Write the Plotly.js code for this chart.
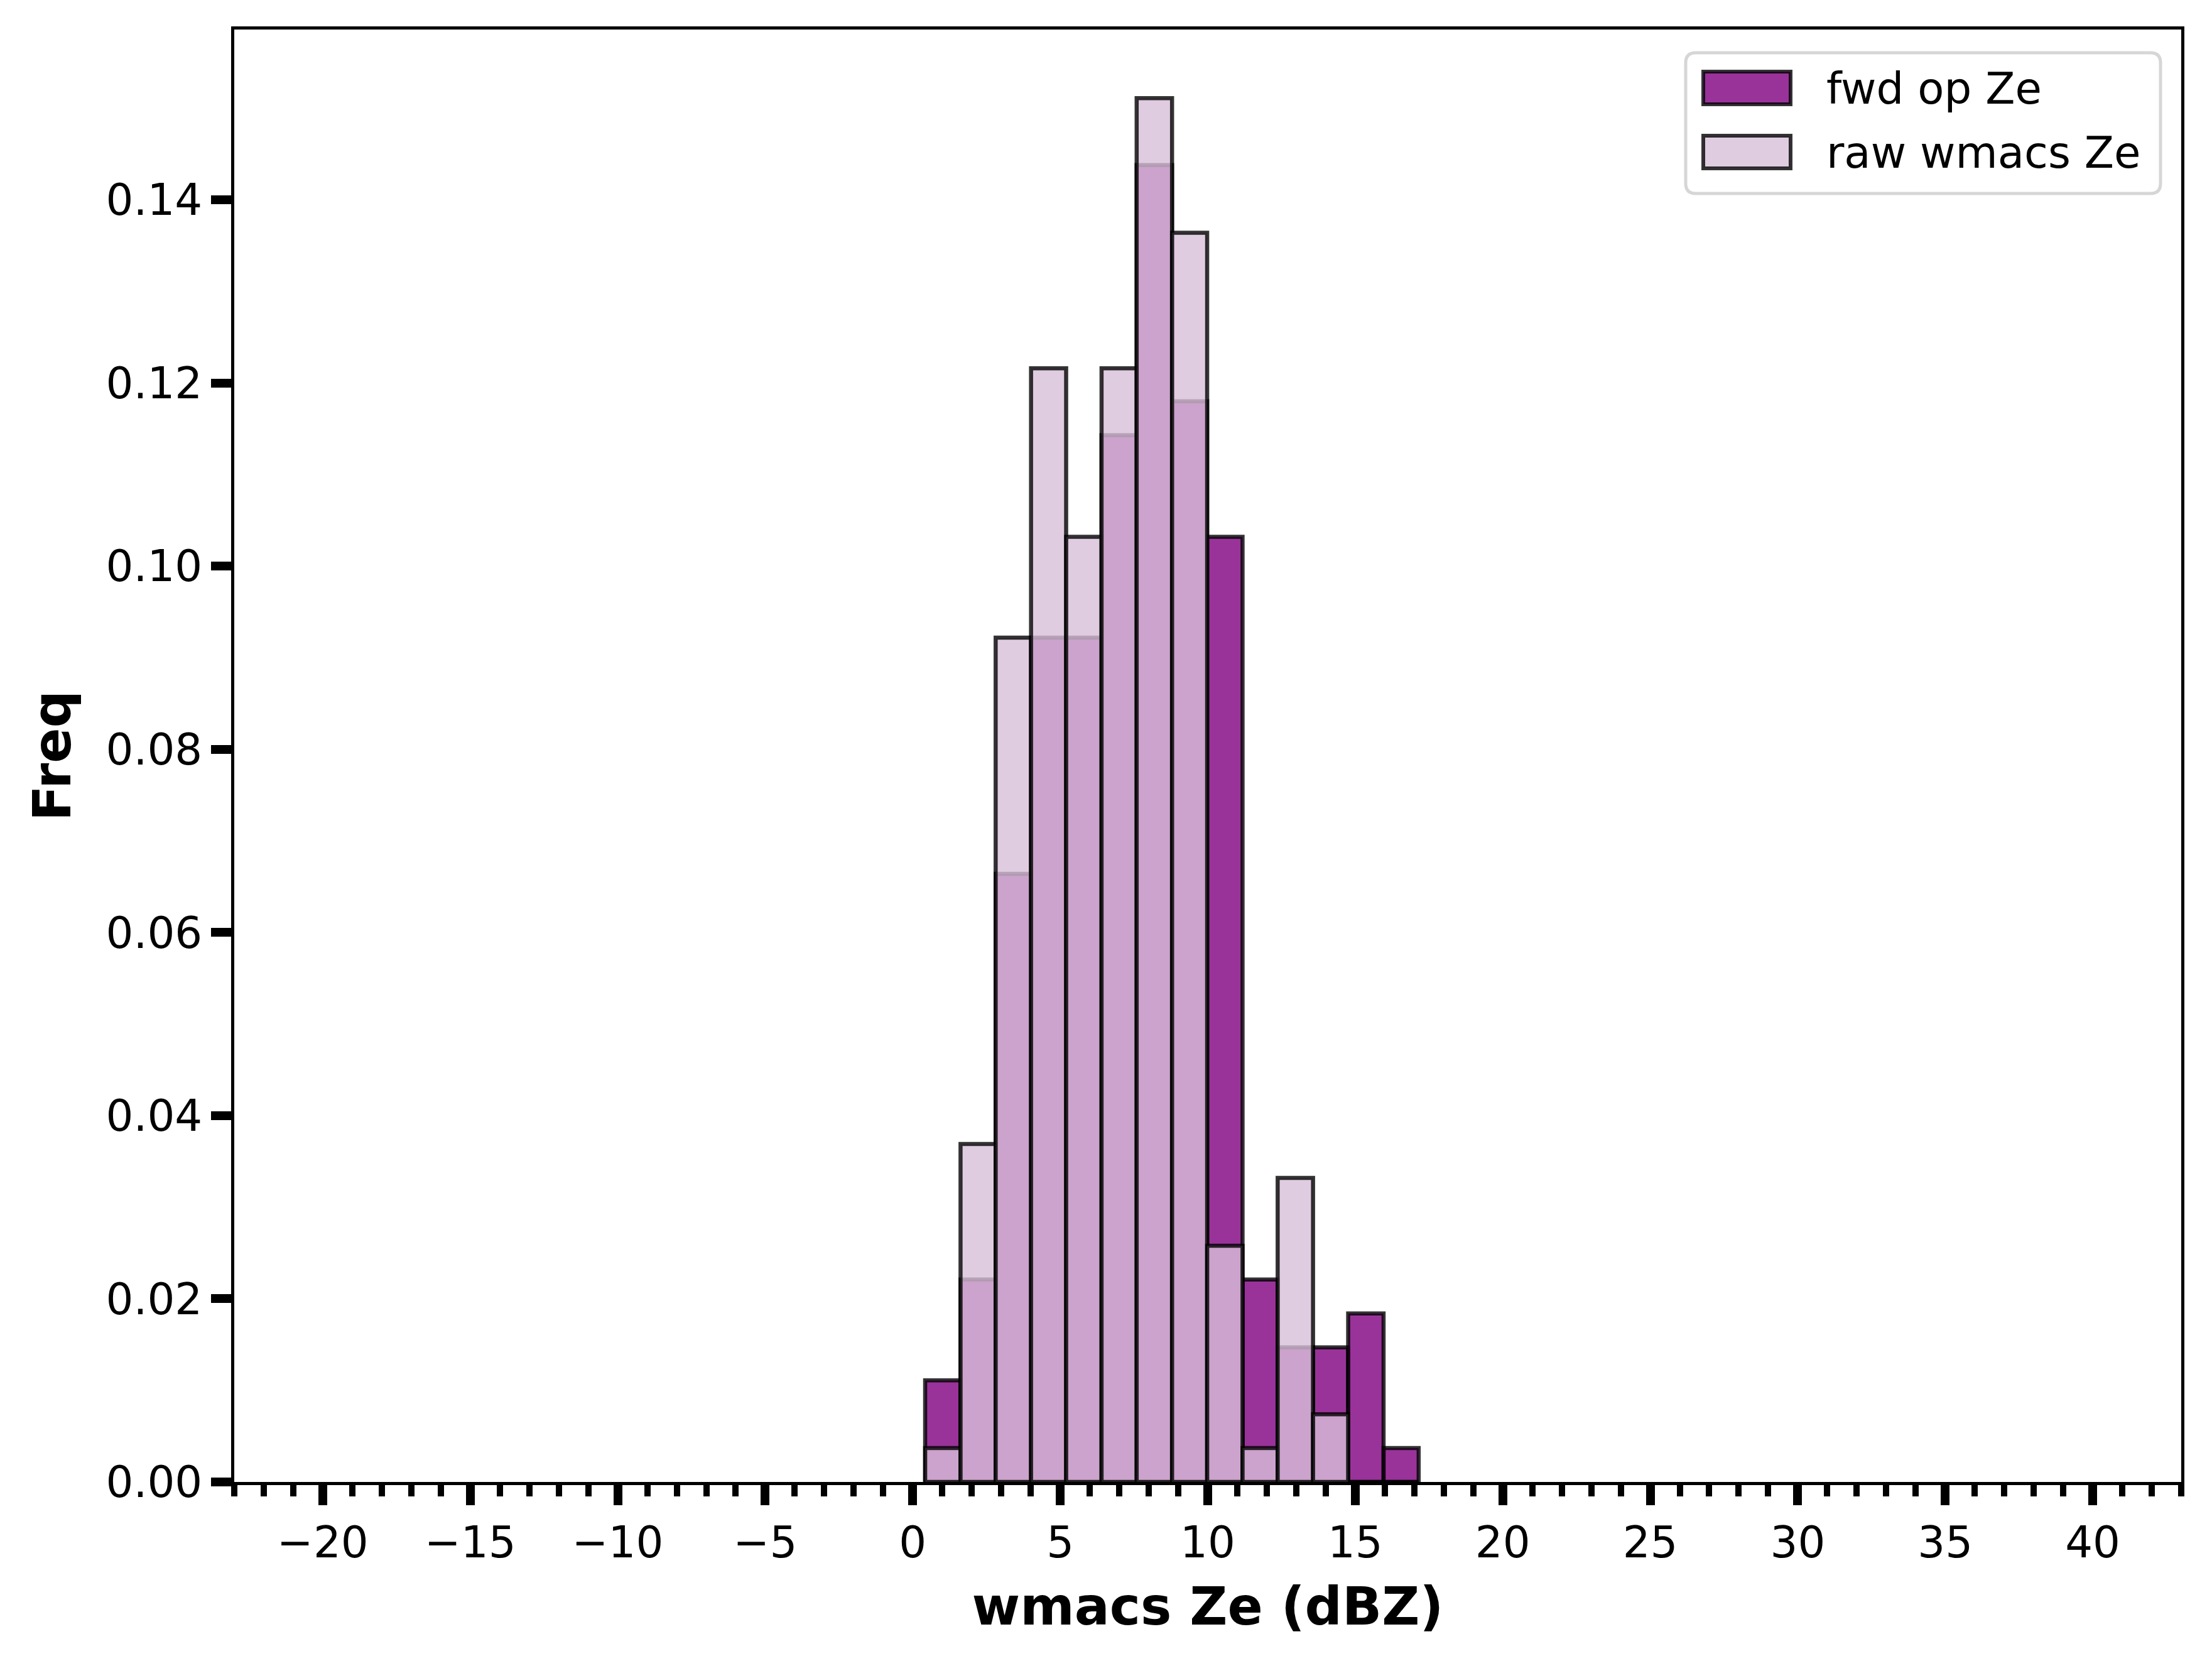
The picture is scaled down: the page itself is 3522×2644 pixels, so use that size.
<!DOCTYPE html>
<html>
<head>
<meta charset="utf-8">
<script src="https://cdn.plot.ly/plotly-3.0.1.min.js"></script>
<style>
	html, body { margin: 0; padding: 0; background: #ffffff; }
	#histPlot { width: 3522px; height: 2644px; }
</style>
</head>
<body>
<div id="histPlot"></div>
<script>
'use strict';

// bin edges (dBZ)
const binEdges = [0.42, 1.62, 2.81, 4.01, 5.20, 6.40, 7.59, 8.79, 9.98, 11.18, 12.37, 13.57, 14.76, 15.96, 17.15];

// normalised frequency per bin
const fwdFreq = [0.0111, 0.0221, 0.0664, 0.0922, 0.0922, 0.1143, 0.1438, 0.1180, 0.1032, 0.0221, 0.0147, 0.0147, 0.0184, 0.0037];
const rawFreq = [0.0037, 0.0369, 0.0922, 0.1216, 0.1032, 0.1216, 0.1511, 0.1364, 0.0258, 0.0037, 0.0332, 0.0074, 0, 0];

const seriesNames = ["fwd op Ze", "raw wmacs Ze"];
const xTickVals = [-20, -15, -10, -5, 0, 5, 10, 15, 20, 25, 30, 35, 40];

document.addEventListener('DOMContentLoaded', function(){

	const fwdFill = 'rgba(128,0,128,0.8)';
	const rawFill = 'rgba(216,191,216,0.8)';
	const edge = 'rgba(0,0,0,0.8)';
	const font = 'DejaVu Sans, sans-serif';

	function binCentres(edges)
	{
		let c = [];
		for(let i = 0; i < edges.length - 1; i++)
		{
			c.push((edges[i] + edges[i + 1]) / 2);
		}
		return c;
	}

	function binWidths(edges)
	{
		let w = [];
		for(let i = 0; i < edges.length - 1; i++)
		{
			w.push(edges[i + 1] - edges[i]);
		}
		return w;
	}

	function makeTrace(vals, fill, name)
	{
		return {
			x: binCentres(binEdges),
			y: vals,
			width: binWidths(binEdges),
			type: 'bar',
			name: name,
			showlegend: false,
			hoverinfo: 'skip',
			marker: {
				color: fill,
				line: { color: edge, width: 6.5 }
			}
		};
	}

	// rounded box in paper coords for the legend frame
	function roundRect(x0, y0, x1, y1, rx, ry)
	{
		return 'M' + (x0 + rx) + ',' + y1 +
			' L' + (x1 - rx) + ',' + y1 +
			' Q' + x1 + ',' + y1 + ' ' + x1 + ',' + (y1 - ry) +
			' L' + x1 + ',' + (y0 + ry) +
			' Q' + x1 + ',' + y0 + ' ' + (x1 - rx) + ',' + y0 +
			' L' + (x0 + rx) + ',' + y0 +
			' Q' + x0 + ',' + y0 + ' ' + x0 + ',' + (y0 + ry) +
			' L' + x0 + ',' + (y1 - ry) +
			' Q' + x0 + ',' + y1 + ' ' + (x0 + rx) + ',' + y1 + ' Z';
	}

	function drawGraph()
	{
		try {
			// plot area in pixels: 373..3473 x 47..2359
			const pw = 3100, ph = 2312, left = 373, top = 47;
			const px = function(v){ return (v - left) / pw; };
			const py = function(v){ return 1 - (v - top) / ph; };

			const shapes = [
				{
					type: 'path', xref: 'paper', yref: 'paper', layer: 'above',
					path: roundRect(px(2684), py(308), px(3440), py(84), 16 / pw, 16 / ph),
					fillcolor: 'rgba(255,255,255,0.8)',
					line: { color: 'rgba(204,204,204,0.8)', width: 5 }
				},
				{
					type: 'rect', xref: 'paper', yref: 'paper', layer: 'above',
					x0: px(2712), x1: px(2851), y0: py(166), y1: py(114),
					fillcolor: fwdFill, line: { color: edge, width: 6 }
				},
				{
					type: 'rect', xref: 'paper', yref: 'paper', layer: 'above',
					x0: px(2712), x1: px(2851), y0: py(268), y1: py(216),
					fillcolor: rawFill, line: { color: edge, width: 6 }
				}
			];

			const annotations = [
				{
					xref: 'paper', yref: 'paper', x: px(2906), y: py(141),
					xanchor: 'left', yanchor: 'middle', showarrow: false,
					text: seriesNames[0], font: { family: font, size: 69, color: '#000000' }
				},
				{
					xref: 'paper', yref: 'paper', x: px(2906), y: py(243),
					xanchor: 'left', yanchor: 'middle', showarrow: false,
					text: seriesNames[1], font: { family: font, size: 69, color: '#000000' }
				}
			];

			const layout = {
				width: 3522,
				height: 2644,
				margin: { l: 373, r: 49, t: 47, b: 285, pad: 0 },
				paper_bgcolor: '#ffffff',
				plot_bgcolor: '#ffffff',
				barmode: 'overlay',
				bargap: 0,
				showlegend: false,
				font: { family: font, size: 69, color: '#000000' },
				xaxis: {
					range: [-23, 43],
					tickvals: xTickVals,
					ticks: 'outside',
					ticklen: 32,
					tickwidth: 14,
					tickcolor: '#000000',
					tickfont: { family: font, size: 69, color: '#000000' },
					minor: { dtick: 1, tick0: 0, ticks: 'outside', ticklen: 18, tickwidth: 10, tickcolor: '#000000' },
					showline: true,
					linecolor: '#000000',
					linewidth: 5,
					mirror: true,
					showgrid: false,
					zeroline: false,
					title: {
						text: 'wmacs Ze (dBZ)',
						standoff: 36,
						font: { family: font, size: 83, color: '#000000', weight: 'bold' }
					}
				},
				yaxis: {
					range: [0, 0.1586],
					tick0: 0,
					dtick: 0.02,
					tickformat: '.2f',
					ticks: 'outside',
					ticklen: 32,
					tickwidth: 14,
					tickcolor: '#000000',
					tickfont: { family: font, size: 69, color: '#000000' },
					showline: true,
					linecolor: '#000000',
					linewidth: 5,
					mirror: true,
					showgrid: false,
					zeroline: false,
					title: {
						text: 'Freq',
						standoff: 30,
						font: { family: font, size: 83, color: '#000000', weight: 'bold' }
					}
				},
				shapes: shapes,
				annotations: annotations
			};

			const data = [
				makeTrace(fwdFreq, fwdFill, seriesNames[0]),
				makeTrace(rawFreq, rawFill, seriesNames[1])
			];
			Plotly.newPlot('histPlot', data, layout, { staticPlot: true });
		}

		catch (err) {
			console.error(err);
		}
	}

	drawGraph();
});
</script>
</body>
</html>
